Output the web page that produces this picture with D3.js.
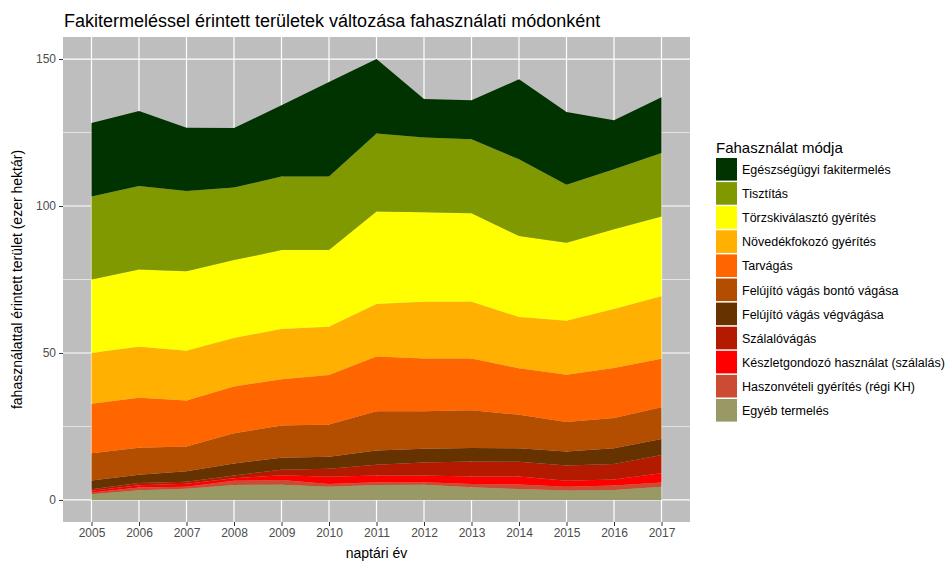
<!DOCTYPE html>
<html>
<head>
<meta charset="utf-8">
<script src="https://cdn.jsdelivr.net/npm/d3@7"></script>
<style>
  body { margin: 0; background: #fff; }
  svg text { font-family: "Liberation Sans", Arial, sans-serif; }
</style>
</head>
<body>
<svg id="chart" width="949" height="563"></svg>
<script>
// years on the x axis
const years = [2005, 2006, 2007, 2008, 2009, 2010, 2011, 2012, 2013, 2014, 2015, 2016, 2017];

// stacked series, bottom to top (ezer hektár)
const egyeb      = [1.9, 3.3, 3.8, 5.1, 5.2, 4.5, 5.1, 5.2, 4.3, 3.7, 3.2, 3.4, 4.5];
const haszonvet  = [0.6, 0.9, 0.7, 1.4, 1.6, 0.9, 0.9, 0.8, 1.1, 1.6, 1.3, 1.5, 1.4];
const keszlet    = [0.6, 0.8, 1.0, 0.9, 1.6, 2.5, 2.3, 2.3, 2.6, 2.7, 2.0, 2.1, 3.2];
const szalalo    = [0.5, 0.8, 0.7, 0.9, 1.9, 2.7, 3.7, 4.4, 5.1, 5.0, 5.2, 5.2, 6.2];
const vegvagas   = [3.0, 2.8, 3.6, 4.1, 4.1, 4.1, 4.8, 4.7, 4.6, 4.6, 4.8, 5.4, 5.4];
const bonto      = [9.3, 9.2, 8.4, 10.3, 10.9, 11.0, 13.4, 12.8, 12.8, 11.4, 10.0, 10.3, 10.8];
const tarvagas   = [16.8, 17.0, 15.6, 15.9, 15.8, 16.8, 18.6, 17.9, 17.6, 15.8, 16.1, 17.0, 16.5];
const novedek    = [17.3, 17.3, 17.0, 16.5, 17.1, 16.4, 17.9, 19.3, 19.3, 17.4, 18.4, 20.1, 21.3];
const torzs      = [25.0, 26.3, 27.0, 26.5, 26.8, 26.1, 31.4, 30.5, 30.1, 27.6, 26.5, 27.1, 27.1];
const tisztitas  = [28.2, 28.4, 27.3, 24.7, 25.0, 25.0, 26.6, 25.4, 25.2, 26.1, 19.7, 20.4, 21.6];
const egeszseg   = [25.0, 25.5, 21.5, 20.2, 24.3, 32.2, 25.3, 13.1, 13.3, 27.2, 24.8, 16.7, 19.0];

// legend order (top to bottom) = stack order reversed
const labels = [
  "Egészségügyi fakitermelés",
  "Tisztítás",
  "Törzskiválasztó gyérítés",
  "Növedékfokozó gyérítés",
  "Tarvágás",
  "Felújító vágás bontó vágása",
  "Felújító vágás végvágása",
  "Szálalóvágás",
  "Készletgondozó használat (szálalás)",
  "Haszonvételi gyérítés (régi KH)",
  "Egyéb termelés"
];
const colors = ["#003300", "#809900", "#ffff00", "#ffb000", "#ff6600",
                "#b34d00", "#663300", "#b31a00", "#ff0000", "#cc4c33", "#999966"];
const yTicks = [0, 50, 100, 150];
const yMinor = [25, 75, 125];

const seriesVals = [egeszseg, tisztitas, torzs, novedek, tarvagas, bonto,
                    vegvagas, szalalo, keszlet, haszonvet, egyeb];

// rows for d3.stack
let rows = years.map((y, i) => {
  let r = {year: y};
  labels.forEach((l, k) => { r[l] = seriesVals[k][i]; });
  return r;
});

let stackKeys = labels.slice().reverse();
let stacked = d3.stack().keys(stackKeys)(rows);

let svg = d3.select('#chart');

let panel = {left: 63, right: 690, top: 37, bottom: 522};

let maxTotal = d3.max(stacked[stacked.length - 1], d => d[1]);
let xPad = (years[years.length - 1] - years[0]) * 0.05;
let xScale = d3.scaleLinear()
  .domain([years[0] - xPad, years[years.length - 1] + xPad])
  .range([panel.left, panel.right]);

let yScale = d3.scaleLinear()
  .domain([-maxTotal * 0.05, maxTotal * 1.05])
  .range([panel.bottom, panel.top]);

// panel background
svg.append('rect')
  .attr('x', panel.left).attr('y', panel.top)
  .attr('width', panel.right - panel.left)
  .attr('height', panel.bottom - panel.top)
  .attr('fill', '#bebebe');

// gridlines
let grid = svg.append('g');
grid.selectAll('.minor').data(yMinor).enter().append('line')
  .attr('x1', panel.left).attr('x2', panel.right)
  .attr('y1', d => yScale(d)).attr('y2', d => yScale(d))
  .attr('stroke', '#fff').attr('stroke-width', 0.6);
grid.selectAll('.major').data(yTicks).enter().append('line')
  .attr('x1', panel.left).attr('x2', panel.right)
  .attr('y1', d => yScale(d)).attr('y2', d => yScale(d))
  .attr('stroke', '#fff').attr('stroke-width', 1.2);
grid.selectAll('.vmajor').data(years).enter().append('line')
  .attr('y1', panel.top).attr('y2', panel.bottom)
  .attr('x1', d => xScale(d)).attr('x2', d => xScale(d))
  .attr('stroke', '#fff').attr('stroke-width', 1.2);

// areas
let area = d3.area()
  .x(d => xScale(d.data.year))
  .y0(d => yScale(d[0]))
  .y1(d => yScale(d[1]));

svg.append('g').selectAll('path')
  .data(stacked).enter().append('path')
  .attr('d', area)
  .attr('fill', d => colors[labels.indexOf(d.key)]);

// axes
let xAxis = d3.axisBottom(xScale).tickValues(years).tickFormat(d3.format('d'))
  .tickSizeInner(4).tickSizeOuter(0).tickPadding(2);
let gx = svg.append('g')
  .attr('transform', `translate(0, ${panel.bottom})`)
  .call(xAxis);
gx.select('.domain').remove();
gx.selectAll('line').attr('stroke', '#333');
gx.selectAll('text').attr('fill', '#4d4d4d').style('font-size', '12px');

let yAxis = d3.axisLeft(yScale).tickValues(yTicks)
  .tickSizeInner(4).tickSizeOuter(0).tickPadding(3);
let gy = svg.append('g')
  .attr('transform', `translate(${panel.left}, 0)`)
  .call(yAxis);
gy.select('.domain').remove();
gy.selectAll('line').attr('stroke', '#333');
gy.selectAll('text').attr('fill', '#4d4d4d').style('font-size', '12px');

// titles
svg.append('text')
  .attr('x', panel.left + 1).attr('y', 27)
  .style('font-size', '18px').attr('fill', '#000')
  .text('Fakitermeléssel érintett területek változása fahasználati módonként');

svg.append('text')
  .attr('x', (panel.left + panel.right) / 2).attr('y', 558)
  .attr('text-anchor', 'middle')
  .style('font-size', '14px').attr('fill', '#000')
  .text('naptári év');

svg.append('text')
  .attr('transform', `translate(22, ${(panel.top + panel.bottom) / 2}) rotate(-90)`)
  .attr('text-anchor', 'middle')
  .style('font-size', '14px').attr('fill', '#000')
  .text('fahasználattal érintett terület (ezer hektár)');

// legend
let legend = svg.append('g').attr('transform', 'translate(716, 0)');
legend.append('text')
  .attr('x', 0).attr('y', 153)
  .style('font-size', '15px').attr('fill', '#000')
  .text('Fahasználat módja');

let keyH = 24.1;
let items = legend.selectAll('.item').data(labels).enter().append('g')
  .attr('transform', (d, i) => `translate(0, ${158 + i * keyH})`);
items.append('rect')
  .attr('x', 0).attr('y', 0)
  .attr('width', 21).attr('height', keyH - 1.5)
  .attr('fill', (d, i) => colors[i]);
items.append('text')
  .attr('x', 26).attr('y', keyH / 2 + 4)
  .style('font-size', '12.5px').attr('fill', '#000')
  .text(d => d);
</script>
</body>
</html>
